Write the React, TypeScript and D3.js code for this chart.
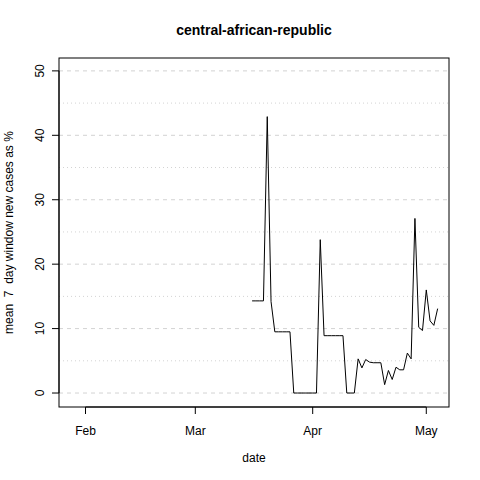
import * as d3 from "d3";

const startDate = "2020-03-16";
const values = [
  14.3, 14.3, 14.3, 14.3, 42.9, 14.2, 9.5, 9.5, 9.5, 9.5, 9.5, 0, 0, 0, 0, 0, 0, 0,
  23.8, 8.9, 8.9, 8.9, 8.9, 8.9, 8.9, 0, 0, 0, 5.3, 3.9, 5.2, 4.8, 4.7, 4.7, 4.7,
  1.3, 3.5, 2.1, 4.0, 3.6, 3.6, 6.2, 5.3, 27.1, 10.2, 9.7, 16.0, 11.2, 10.5, 13.1,
];
const xTicks = ["2020-02-01", "2020-03-01", "2020-04-01", "2020-05-01"];
const xTickLabels = ["Feb", "Mar", "Apr", "May"];
const yTicks = [0, 10, 20, 30, 40, 50];
const yGrid = [0, 5, 10, 15, 20, 25, 30, 35, 40, 45, 50];

const parse = d3.utcParse("%Y-%m-%d");
const start = parse(startDate)!;
const points = values.map((v, i) => ({ date: d3.utcDay.offset(start, i), v }));

export default function App() {
  const left = 59, right = 449, top = 58, bottom = 407;
  const x = d3.scaleUtc().domain([parse("2020-01-25")!, parse("2020-05-07")!]).range([left, right]);
  const y = d3.scaleLinear().domain([-2.17, 52]).range([bottom, top]);
  const line = d3.line<{ date: Date; v: number }>().x((d) => x(d.date)).y((d) => y(d.v));
  const font = "Liberation Sans, Arial, sans-serif";
  const xt = xTicks.map((t) => x(parse(t)!));
  return (
    <svg width={480} height={480} style={{ position: "absolute", left: 0, top: 0 }} fontFamily={font}>
      <rect width={480} height={480} fill="white" />
      {yGrid.map((g) => (
        <line key={g} x1={left} x2={right} y1={y(g)} y2={y(g)} stroke="#d3d3d3"
          strokeDasharray={g % 10 === 0 ? "4,4" : "1,3"} />
      ))}
      <path d={line(points)!} fill="none" stroke="black" strokeWidth={1} />
      <rect x={left} y={top} width={right - left} height={bottom - top} fill="none" stroke="black" />
      <line x1={xt[0]} x2={xt[xt.length - 1]} y1={bottom} y2={bottom} stroke="black" />
      {xt.map((px, i) => (
        <g key={i}>
          <line x1={px} x2={px} y1={bottom} y2={bottom + 7} stroke="black" />
          <text x={px} y={435} textAnchor="middle" fontSize={12}>{xTickLabels[i]}</text>
        </g>
      ))}
      <line x1={left} x2={left} y1={y(0)} y2={y(50)} stroke="black" />
      {yTicks.map((t) => (
        <g key={t}>
          <line x1={left - 7} x2={left} y1={y(t)} y2={y(t)} stroke="black" />
          <text transform={`translate(${left - 15},${y(t)}) rotate(-90)`} textAnchor="middle" fontSize={12}>{t}</text>
        </g>
      ))}
      <text x={254} y={35} textAnchor="middle" fontSize={14} fontWeight="bold">central-african-republic</text>
      <text x={254} y={462} textAnchor="middle" fontSize={12}>date</text>
      <text transform={`translate(13,${(top + bottom) / 2}) rotate(-90)`} textAnchor="middle" fontSize={12} xmlSpace="preserve">mean  7  day window new cases as %</text>
    </svg>
  );
}
